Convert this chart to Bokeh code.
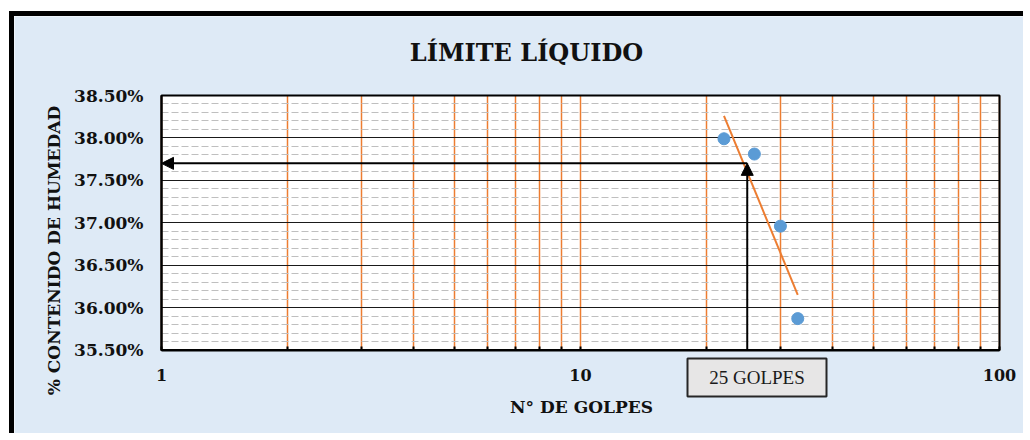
import math
from bokeh.plotting import figure
from bokeh.models import (FixedTicker, PrintfTickFormatter, Label, Arrow, NormalHead,
                          BoxAnnotation)
from bokeh.embed import file_html
from bokeh.resources import INLINE

# ---------------- data ----------------
golpes = [22, 26, 30, 33]
humedad = [37.99, 37.81, 36.96, 35.87]
trend_golpes = [22, 33]
trend_humedad = [38.26, 36.15]
golpes_ref = 25
limite_liquido = 37.70

x_ticks = [1, 10, 100]
x_minor = [2, 3, 4, 5, 6, 7, 8, 9, 20, 30, 40, 50, 60, 70, 80, 90]
y_ticks = [35.5, 36.0, 36.5, 37.0, 37.5, 38.0, 38.5]
y_minor = [35.6, 35.7, 35.8, 35.9, 36.1, 36.2, 36.3, 36.4, 36.6, 36.7, 36.8, 36.9,
           37.1, 37.2, 37.3, 37.4, 37.6, 37.7, 37.8, 37.9, 38.1, 38.2, 38.3, 38.4]

title_text = "LÍMITE LÍQUIDO"
x_title = "N° DE GOLPES"
y_title = "% CONTENIDO DE HUMEDAD"
box_text = "25 GOLPES"

# ---------------- layout (canvas pixels) ----------------
W, H = 1014, 422
PL, PR, PT, PB = 147, 985, 79, 333.5        # plot-area edges on the canvas
X0, X1 = x_ticks[0], x_ticks[-1]
Y0, Y1 = y_ticks[0], y_ticks[-1]
DEC = (PR - PL) / math.log10(X1 / X0)       # px per decade
YPX = (PB - PT) / (Y1 - Y0)                 # px per unit of %


def dx(px):
    return X0 * 10 ** ((px - PL) / DEC)


def dy(py):
    return Y0 + (PB - py) / YPX


BG = "#DEEAF6"
ORANGE = "#ED7D31"
BLUE = "#5B9BD5"
SERIF = "DejaVu Serif"
INK = "#111111"

p = figure(width=W, height=H, x_axis_type="log",
           x_range=(dx(0), dx(W)), y_range=(dy(H), dy(0)),
           output_backend="svg", toolbar_location=None, title=None,
           min_border=0, min_border_left=0, min_border_right=0,
           min_border_top=0, min_border_bottom=0)
p.styles = {"border-left": "5px solid black", "border-top": "5px solid black",
            "margin-left": "9px", "margin-top": "11px"}

p.border_fill_color = BG
p.background_fill_color = BG
p.outline_line_color = None

# white plot area + frame
p.add_layout(BoxAnnotation(left=X0, right=X1, bottom=Y0, top=Y1,
                           fill_color="white", fill_alpha=1.0,
                           line_color=None, level="image"))
p.add_layout(BoxAnnotation(left=X0, right=X1, bottom=Y0, top=Y1,
                           fill_alpha=0.0, line_color="black", line_alpha=1.0,
                           line_width=2))

# axes
xa = p.xaxis[0]
ya = p.yaxis[0]
xa.fixed_location = Y0
ya.fixed_location = X0
xa.bounds = (X0, X1)
ya.bounds = (Y0, Y1)
xa.ticker = FixedTicker(ticks=x_ticks, minor_ticks=x_minor)
xa.formatter = PrintfTickFormatter(format="%d")
ya.ticker = FixedTicker(ticks=y_ticks, minor_ticks=y_minor)
ya.formatter = PrintfTickFormatter(format="%.2f%%")

for ax in (xa, ya):
    ax.axis_line_color = "black"
    ax.axis_line_width = 2
    ax.major_label_text_font = SERIF
    ax.major_label_text_font_style = "bold"
    ax.major_label_text_color = INK

xa.major_label_text_font_size = "16px"
ya.major_label_text_font_size = "17px"

xa.major_tick_in = 4
xa.major_tick_out = 0
xa.minor_tick_in = 4
xa.minor_tick_out = 0
xa.major_tick_line_color = "black"
xa.minor_tick_line_color = "black"
xa.major_tick_line_width = 2
xa.minor_tick_line_width = 2
xa.major_label_standoff = 19

ya.major_tick_in = 0
ya.major_tick_out = 0
ya.minor_tick_in = 0
ya.minor_tick_out = 0
ya.major_label_standoff = 18

# grids
xg = p.xgrid[0]
yg = p.ygrid[0]
xg.cross_bounds = (Y0, Y1)
yg.cross_bounds = (X0, X1)
xg.grid_line_color = ORANGE
xg.grid_line_width = 1.5
xg.minor_grid_line_color = ORANGE
xg.minor_grid_line_width = 1.5
yg.grid_line_color = "#1a1a1a"
yg.grid_line_width = 1
yg.minor_grid_line_color = "#BFBFBF"
yg.minor_grid_line_width = 1
yg.minor_grid_line_dash = "7 3"

# data
p.line(trend_golpes, trend_humedad, line_color=ORANGE, line_width=2)
p.scatter(golpes, humedad, size=12, fill_color=BLUE, line_color=BLUE)

# arrows
p.add_layout(Arrow(end=NormalHead(size=12, fill_color="black", line_color="black"),
                   x_start=golpes_ref, y_start=Y0,
                   x_end=golpes_ref, y_end=limite_liquido,
                   line_color="black", line_width=2))
p.add_layout(Arrow(end=NormalHead(size=12, fill_color="black", line_color="black"),
                   x_start=golpes_ref, y_start=limite_liquido,
                   x_end=X0, y_end=limite_liquido,
                   line_color="black", line_width=2))

# texts
p.add_layout(Label(x=dx(512), y=dy(36), text=title_text, text_align="center",
                   text_baseline="middle", text_font=SERIF, text_font_style="bold",
                   text_font_size="24px", text_color=INK))
p.add_layout(Label(x=dx(39.5), y=dy(234), text=y_title, angle=math.pi / 2,
                   text_align="center", text_baseline="middle", text_font=SERIF,
                   text_font_style="bold", text_font_size="17px", text_color=INK))
p.add_layout(Label(x=dx(567), y=dy(390), text=x_title, text_align="center",
                   text_baseline="middle", text_font=SERIF, text_font_style="bold",
                   text_font_size="17px", text_color=INK))

# "25 GOLPES" text box
p.add_layout(BoxAnnotation(left=dx(673), right=dx(812), top=dy(342), bottom=dy(380),
                           fill_color="#E7E6E6", fill_alpha=1.0,
                           line_color="#262626", line_alpha=1.0, line_width=2))
p.add_layout(Label(x=dx(742.5), y=dy(361), text=box_text, text_align="center",
                   text_baseline="middle", text_font="Liberation Serif",
                   text_font_size="19px", text_color="#1a1a1a"))

open("out.html", "w").write(file_html(p, INLINE))
